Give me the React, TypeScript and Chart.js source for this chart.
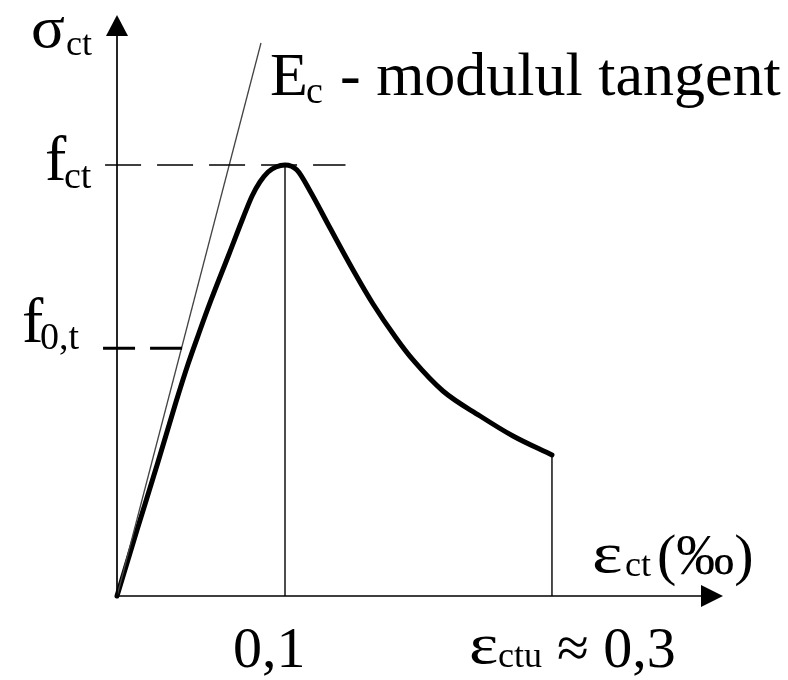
import { useEffect, useRef } from "react";
import { Chart, registerables } from "chart.js";

Chart.register(...registerables);

// Tensile stress–strain law of concrete: strain ε_ct in ‰, stress σ_ct relative to f_ct
const strainCurve = [
  0, 0.0119, 0.0244, 0.0351, 0.0423, 0.0488, 0.056, 0.0667, 0.075, 0.0804, 0.0851, 0.0899, 0.0946, 0.1,
  0.1071, 0.1149, 0.1268, 0.1405, 0.1524, 0.1661, 0.1762, 0.194, 0.2161, 0.2357, 0.2589,
];
const stressCurve = [
  0, 0.1531, 0.3109, 0.4501, 0.5383, 0.6102, 0.6868, 0.7935, 0.877, 0.9281, 0.9606, 0.9838, 0.9954, 1.0,
  0.9884, 0.9397, 0.8538, 0.7564, 0.6775, 0.5986, 0.5476, 0.4756, 0.4176, 0.3712, 0.3271,
];

// Characteristic values
const EPS_PEAK = 0.1; // strain at f_ct
const EPS_CTU = 0.2589; // ultimate strain, ε_ctu ≈ 0,3
const F_CT = 1; // tensile strength
const F_0T = 0.575; // limit of linear behaviour

// Tangent modulus E_c through the origin
const tangentStrain = [0, 0.0857];
const tangentStress = [0, 1.283];

// Reference-line extents (the dashed lines start slightly left of the axis)
const fctLineStrain = [-0.0071, 0.136];
const f0tLineStrain = [-0.0083, 0.0405];

const X_MAX = 0.3607;
const Y_MAX = 1.348;

const FONT = '"Liberation Serif", "Times New Roman", serif';

const pts = (xs: number[], ys: number[]) => xs.map((x, i) => ({ x, y: ys[i] }));

const diagramPlugin = {
  id: "diagram",
  afterDatasetsDraw(chart: any) {
    const { ctx } = chart;
    const xs = chart.scales.x;
    const ys = chart.scales.y;
    const x0 = xs.getPixelForValue(0);
    const y0 = ys.getPixelForValue(0);
    const xTip = xs.getPixelForValue(X_MAX);
    const yTip = ys.getPixelForValue(Y_MAX);
    ctx.save();
    ctx.strokeStyle = "#000";
    ctx.fillStyle = "#000";
    ctx.lineWidth = 1.7;

    // axes
    ctx.beginPath();
    ctx.moveTo(x0, y0);
    ctx.lineTo(x0, yTip + 12);
    ctx.moveTo(x0, y0);
    ctx.lineTo(xTip - 12, y0);
    ctx.stroke();

    // arrow heads
    ctx.beginPath();
    ctx.moveTo(x0, yTip);
    ctx.lineTo(x0 - 11, yTip + 21);
    ctx.lineTo(x0 + 11, yTip + 21);
    ctx.closePath();
    ctx.fill();
    ctx.beginPath();
    ctx.moveTo(xTip, y0);
    ctx.lineTo(xTip - 22, y0 - 11);
    ctx.lineTo(xTip - 22, y0 + 11);
    ctx.closePath();
    ctx.fill();

    const text = (s: string, x: number, y: number, size: number, sx = 1) => {
      ctx.save();
      ctx.font = `${size}px ${FONT}`;
      ctx.translate(x, y);
      ctx.scale(sx, 1);
      ctx.fillText(s, 0, 0);
      ctx.restore();
    };
    ctx.textBaseline = "alphabetic";
    ctx.textAlign = "left";

    // σ_ct
    text("σ", x0 - 86, yTip + 32, 60, 1.05);
    text("ct", x0 - 51, yTip + 40, 36);

    // E_c - modulul tangent
    const tx = xs.getPixelForValue(tangentStrain[1]);
    const ty = ys.getPixelForValue(tangentStress[1]);
    text("E", tx + 9, ty + 52, 62);
    text("c", tx + 45, ty + 60, 38);
    text("- modulul tangent", tx + 79, ty + 52, 62);

    // f_ct
    const yct = ys.getPixelForValue(F_CT);
    text("f", x0 - 72, yct + 15, 64);
    text("ct", x0 - 53, yct + 23, 38);

    // f_0,t
    const y0t = ys.getPixelForValue(F_0T);
    text("f", x0 - 95, y0t - 6, 64);
    text("0,t", x0 - 77, y0t + 1, 38);

    // 0,1 under the peak
    const xp = xs.getPixelForValue(EPS_PEAK);
    text("0,1", xp - 52, y0 + 71, 58);

    // ε_ctu ≈ 0,3
    const xu = xs.getPixelForValue(EPS_CTU);
    text("ε", xu - 83, y0 + 67, 58, 1.2);
    text("ctu", xu - 54, y0 + 71, 36);
    text("≈ 0,3", xu + 5, y0 + 71, 58);

    // ε_ct(‰) by the strain axis
    text("ε", xTip - 131, y0 - 24, 58, 1.25);
    text("ct", xTip - 98, y0 - 20, 36);
    text("(‰)", xTip - 66, y0 - 22, 58);

    ctx.restore();
  },
};

export default function App() {
  const ref = useRef<HTMLCanvasElement | null>(null);

  useEffect(() => {
    if (!ref.current) return;
    const chart = new Chart(ref.current, {
      type: "scatter",
      data: {
        datasets: [
          {
            data: pts(fctLineStrain, [F_CT, F_CT]),
            showLine: true,
            borderColor: "#000",
            borderWidth: 1.4,
            borderDash: [36, 16],
            pointRadius: 0,
            clip: false,
          },
          {
            data: pts(f0tLineStrain, [F_0T, F_0T]),
            showLine: true,
            borderColor: "#000",
            borderWidth: 3,
            borderDash: [32, 15],
            pointRadius: 0,
            clip: false,
          },
          {
            data: pts(tangentStrain, tangentStress),
            showLine: true,
            borderColor: "#444",
            borderWidth: 1.3,
            pointRadius: 0,
            clip: false,
          },
          {
            data: pts([EPS_PEAK, EPS_PEAK], [0, F_CT]),
            showLine: true,
            borderColor: "#000",
            borderWidth: 1.4,
            pointRadius: 0,
          },
          {
            data: pts([EPS_CTU, EPS_CTU], [0, stressCurve[stressCurve.length - 1]]),
            showLine: true,
            borderColor: "#000",
            borderWidth: 1.4,
            pointRadius: 0,
          },
          {
            data: pts(strainCurve, stressCurve),
            showLine: true,
            borderColor: "#000",
            borderWidth: 5,
            cubicInterpolationMode: "monotone",
            borderCapStyle: "round",
            borderJoinStyle: "round",
            pointRadius: 0,
            clip: false,
          },
        ],
      },
      options: {
        responsive: false,
        animation: false,
        events: [],
        layout: { padding: { left: 117, right: 65, top: 15, bottom: 84 } },
        plugins: { legend: { display: false }, tooltip: { enabled: false }, title: { display: false } },
        scales: {
          x: { type: "linear", min: 0, max: X_MAX, display: false },
          y: { type: "linear", min: 0, max: Y_MAX, display: false },
        },
      },
      plugins: [diagramPlugin],
    });
    return () => chart.destroy();
  }, []);

  return (
    <div style={{ position: "absolute", left: 0, top: 0, width: 788, height: 680, background: "#fff" }}>
      <canvas ref={ref} width={788} height={680} style={{ display: "block" }} />
    </div>
  );
}
